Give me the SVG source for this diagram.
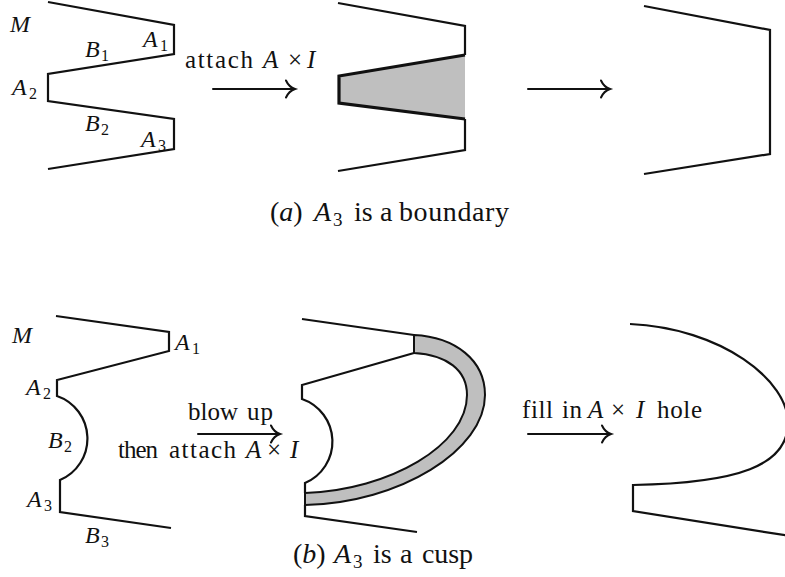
<svg xmlns="http://www.w3.org/2000/svg" width="785" height="577" viewBox="0 0 785 577">
<style>
.ln{fill:none;stroke:#111;stroke-width:2.2;stroke-linejoin:miter}
.thick{fill:none;stroke:#111;stroke-width:3.2}
.band{fill:#bfbfbf;stroke:#111;stroke-width:2}
.grey{fill:#bfbfbf;stroke:none}
.arr{fill:none;stroke:#111;stroke-width:2;stroke-linecap:round}
.lb{font-size:24px}
.an{font-size:25px}
.cap{font-size:28px}
.it{font-style:italic}
.sub{font-size:16px}
.csub{font-size:19px}
</style>
<rect width="785" height="577" fill="#fff"/>

<g font-family="'Liberation Serif', 'Times New Roman', serif" fill="#111">
<g id="a-fig1">
<path class="ln" d="M48,2 L174,25 L174,54 L48,74 L48,101 L174,119 L174,149 L48,169"/>
<text class="lb it" x="10" y="32">M</text>
<text class="lb"><tspan class="it" x="143" y="47">A</tspan><tspan class="sub" x="160" y="51">1</tspan></text>
<text class="lb"><tspan class="it" x="85" y="57">B</tspan><tspan class="sub" x="101" y="61">1</tspan></text>
<text class="lb"><tspan class="it" x="12" y="95">A</tspan><tspan class="sub" x="29" y="99">2</tspan></text>
<text class="lb"><tspan class="it" x="85" y="131">B</tspan><tspan class="sub" x="101" y="135">2</tspan></text>
<text class="lb"><tspan class="it" x="141" y="147">A</tspan><tspan class="sub" x="158" y="151">3</tspan></text>
</g>

<g id="a-fig2">
<path class="ln" d="M338,3 L465,26 L465,55"/>
<polygon class="grey" points="465,55 339,76 339,103 465,119"/>
<path class="thick" d="M465,55 L339,76 L339,103 L465,119"/>
<path class="ln" d="M465,119 L465,150 L338,171"/>
</g>

<g id="a-fig3">
<path class="ln" d="M644,6 L770,30 L770,154 L644,174"/>
</g>

<g id="a-caption">
<text class="cap" y="221"><tspan x="270">(</tspan><tspan class="it">a</tspan><tspan>)</tspan> <tspan class="it" x="314">A</tspan><tspan class="csub" x="333" y="226">3</tspan> <tspan x="354" y="221">is</tspan> <tspan x="380">a</tspan> <tspan x="399" textLength="110" lengthAdjust="spacing">boundary</tspan></text>
</g>

<g id="b-fig1">
<path class="ln" d="M56,316 L169,332 L169,351 L57,380 L57,396 A45,45 0 0 1 60,480 L60,512 L171,528"/>
<text class="lb it" x="12" y="343">M</text>
<text class="lb"><tspan class="it" x="175" y="350">A</tspan><tspan class="sub" x="192" y="354">1</tspan></text>
<text class="lb"><tspan class="it" x="26" y="395">A</tspan><tspan class="sub" x="43" y="399">2</tspan></text>
<text class="lb"><tspan class="it" x="48" y="448">B</tspan><tspan class="sub" x="64" y="452">2</tspan></text>
<text class="lb"><tspan class="it" x="27" y="507">A</tspan><tspan class="sub" x="44" y="511">3</tspan></text>
<text class="lb"><tspan class="it" x="85" y="543">B</tspan><tspan class="sub" x="101" y="547">3</tspan></text>
</g>

<g id="b-fig2">
<path class="ln" d="M302,319 L414,335"/>
<path class="band" d="M414,335 C455,337 485,360 485,395 C485,450 400,503 305,505 L305,493 C390,490 467,445 467,395 C467,370 447,355 414,353 Z"/>
<path class="ln" d="M414,353 L302,385 L302,399 A45,45 0 0 1 305,483 L305,493"/>
<path class="ln" d="M305,505 L305,516 L417,532"/>
</g>

<g id="b-fig3">
<path class="ln" d="M630,324 C720,328 790,380 788,425 C786,465 740,483 633,485 L633,511 L790,536"/>
</g>

<g id="b-caption">
<text class="cap" y="563"><tspan x="293">(</tspan><tspan class="it">b</tspan><tspan>)</tspan> <tspan class="it" x="334">A</tspan><tspan class="csub" x="353" y="568">3</tspan> <tspan x="373" y="563">is</tspan> <tspan x="400">a</tspan> <tspan x="422" textLength="51" lengthAdjust="spacing">cusp</tspan></text>
</g>

<g id="connectors">
<path class="arr" d="M213,89 H295 M286,80.5 C288,85 292,88 295,89 C292,90 288,93 286,97.5"/>
<path class="arr" d="M528,89 H610 M601,80.5 C603,85 607,88 610,89 C607,90 603,93 601,97.5"/>
<path class="arr" d="M198,434 H280 M271,425.5 C273,430 277,433 280,434 C277,435 273,438 271,442.5"/>
<path class="arr" d="M528,434 H611 M602,425.5 C604,430 608,433 611,434 C608,435 604,438 602,442.5"/>
<text class="an" y="68"><tspan x="185" textLength="68" lengthAdjust="spacing">attach</tspan> <tspan class="it" x="263">A</tspan> <tspan x="288">×</tspan> <tspan class="it" x="307">I</tspan></text>
<text class="an" y="420"><tspan x="188" textLength="50" lengthAdjust="spacing">blow</tspan> <tspan x="247" textLength="26" lengthAdjust="spacing">up</tspan></text>
<text class="an" y="458"><tspan x="118" textLength="40" lengthAdjust="spacing">then</tspan> <tspan x="169" textLength="67" lengthAdjust="spacing">attach</tspan> <tspan class="it" x="246">A</tspan> <tspan x="267">×</tspan> <tspan class="it" x="290">I</tspan></text>
<text class="an" y="418"><tspan x="522" textLength="31" lengthAdjust="spacing">fill</tspan> <tspan x="562" textLength="20" lengthAdjust="spacing">in</tspan> <tspan class="it" x="588">A</tspan> <tspan x="611">×</tspan> <tspan class="it" x="636">I</tspan> <tspan x="657" textLength="45" lengthAdjust="spacing">hole</tspan></text>
</g>
</g>
</svg>
